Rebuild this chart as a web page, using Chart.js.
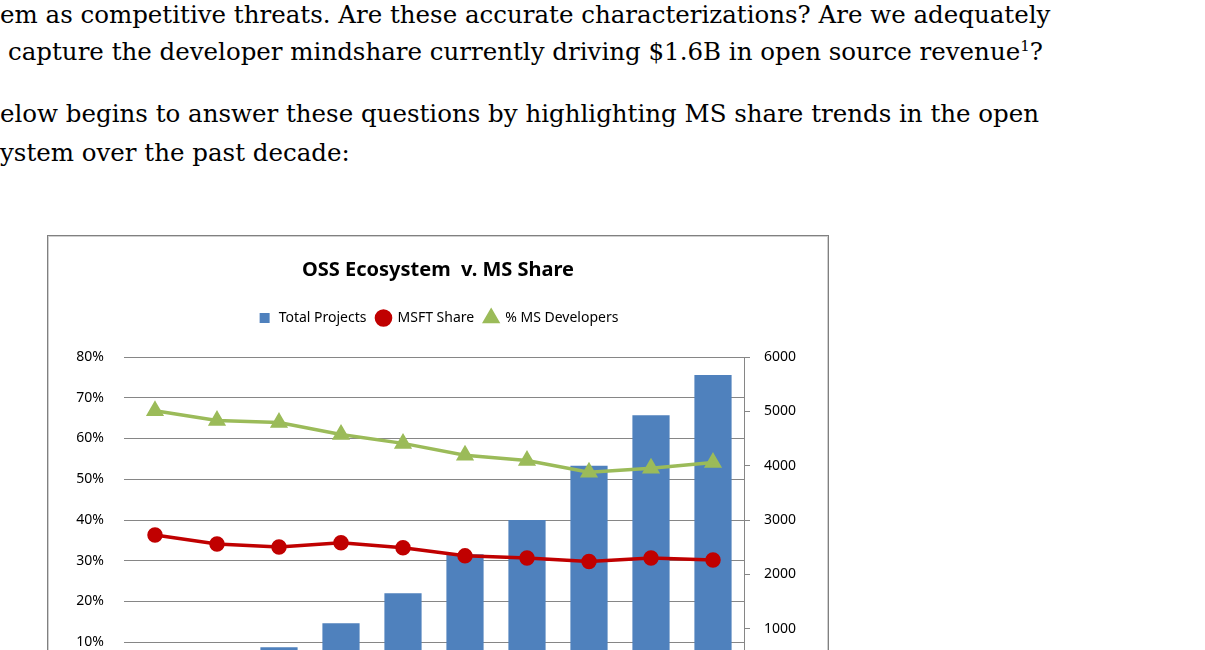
<!DOCTYPE html>
<html>
<head>
<meta charset="utf-8">
<script src="https://cdn.jsdelivr.net/npm/chart.js@4"></script>
<style>
  body { margin: 0; width: 1205px; height: 650px; overflow: hidden; background: #fff; position: relative; }
  .line { position: absolute; font-family: "DejaVu Serif", "Liberation Serif", serif; font-size: 24.5px; color: #000; white-space: nowrap; }
  #frame { position: absolute; left: 47px; top: 235px; width: 780px; height: 480px; border: 1px solid #808080; box-shadow: inset 0 0 0 1px #d0d0d0; }
  #chart { position: absolute; left: 0; top: 0; }
</style>
</head>
<body>
<div class="line" style="left:0;top:0">em as competitive threats. Are these accurate characterizations? Are we adequately</div>
<div class="line" style="left:8px;top:37px">capture the developer mindshare currently driving $1.6B in open source revenue<sup style="font-size:15px">1</sup>?</div>
<div class="line" style="left:0;top:99px">elow begins to answer these questions by highlighting MS share trends in the open</div>
<div class="line" style="left:0;top:138px">ystem over the past decade:</div>
<div id="frame"><canvas id="chart" width="780" height="480"></canvas></div>
<script>
// ----- DATA -----
const years = ["1999", "2000", "2001", "2002", "2003", "2004", "2005", "2006", "2007", "2008"];
const totalProjects = [200, 400, 660, 1100, 1650, 2370, 3000, 4000, 4930, 5670];
const msftShare = [0.363, 0.341, 0.334, 0.344, 0.332, 0.312, 0.307, 0.298, 0.307, 0.302];
const msDevelopers = [0.668, 0.644, 0.639, 0.61, 0.588, 0.559, 0.546, 0.517, 0.527, 0.541];

const font = { family: "'Noto Sans', 'Open Sans', sans-serif", size: 14 };
const legendOrder = ["Total Projects", "MSFT Share", "% MS Developers"];

// extra space under the legend row
const legendGap = {
  id: "legendGap",
  beforeUpdate(chart) {
    const lg = chart.legend;
    if (lg && !lg._patched) {
      const fit = lg.fit;
      lg.fit = function () { fit.call(this); this.height += 22; };
      lg._patched = true;
    }
  }
};

new Chart(document.getElementById("chart"), {
  data: {
    labels: years,
    datasets: [
      {
        type: "line", label: "MSFT Share", data: msftShare, yAxisID: "y",
        borderColor: "#C00000", backgroundColor: "#C00000", borderWidth: 3.5,
        pointStyle: "circle", pointRadius: 6, order: 1
      },
      {
        type: "line", label: "% MS Developers", data: msDevelopers, yAxisID: "y",
        borderColor: "#9BBB59", backgroundColor: "#9BBB59", borderWidth: 3.5,
        pointStyle: "triangle", pointRadius: 7, order: 0
      },
      {
        type: "bar", label: "Total Projects", data: totalProjects, yAxisID: "y1",
        backgroundColor: "#4F81BD", pointStyle: "rect",
        categoryPercentage: 0.6, barPercentage: 1, order: 2
      }
    ]
  },
  plugins: [legendGap],
  options: {
    responsive: false,
    animation: false,
    layout: { padding: { top: 8, bottom: 25 } },
    plugins: {
      title: {
        display: true, text: "OSS Ecosystem  v. MS Share", color: "#000",
        font: { family: font.family, size: 20, weight: "bold" }, padding: { top: 14, bottom: 19 }
      },
      legend: {
        labels: {
          color: "#000", font: font, usePointStyle: true, boxHeight: 10,
          sort: (a, b) => legendOrder.indexOf(a.text) - legendOrder.indexOf(b.text)
        }
      },
      tooltip: { enabled: false }
    },
    scales: {
      x: { ticks: { display: false }, grid: { display: false }, border: { color: "#868686" } },
      y: {
        position: "left", min: 0, max: 0.8,
        afterFit: s => { s.width = 76; },
        ticks: { stepSize: 0.1, color: "#000", font: font, padding: 20,
                 callback: v => Math.round(v * 100) + "%" },
        grid: { color: "#868686", drawTicks: false },
        border: { display: false }
      },
      y1: {
        position: "right", min: 0, max: 6000,
        afterFit: s => { s.width = 84; },
        ticks: { stepSize: 1000, color: "#000", font: font, padding: 14, callback: v => String(v) },
        grid: { drawOnChartArea: false, color: "#868686", tickLength: 6 },
        border: { color: "#868686" }
      }
    }
  }
});
</script>
</body>
</html>
